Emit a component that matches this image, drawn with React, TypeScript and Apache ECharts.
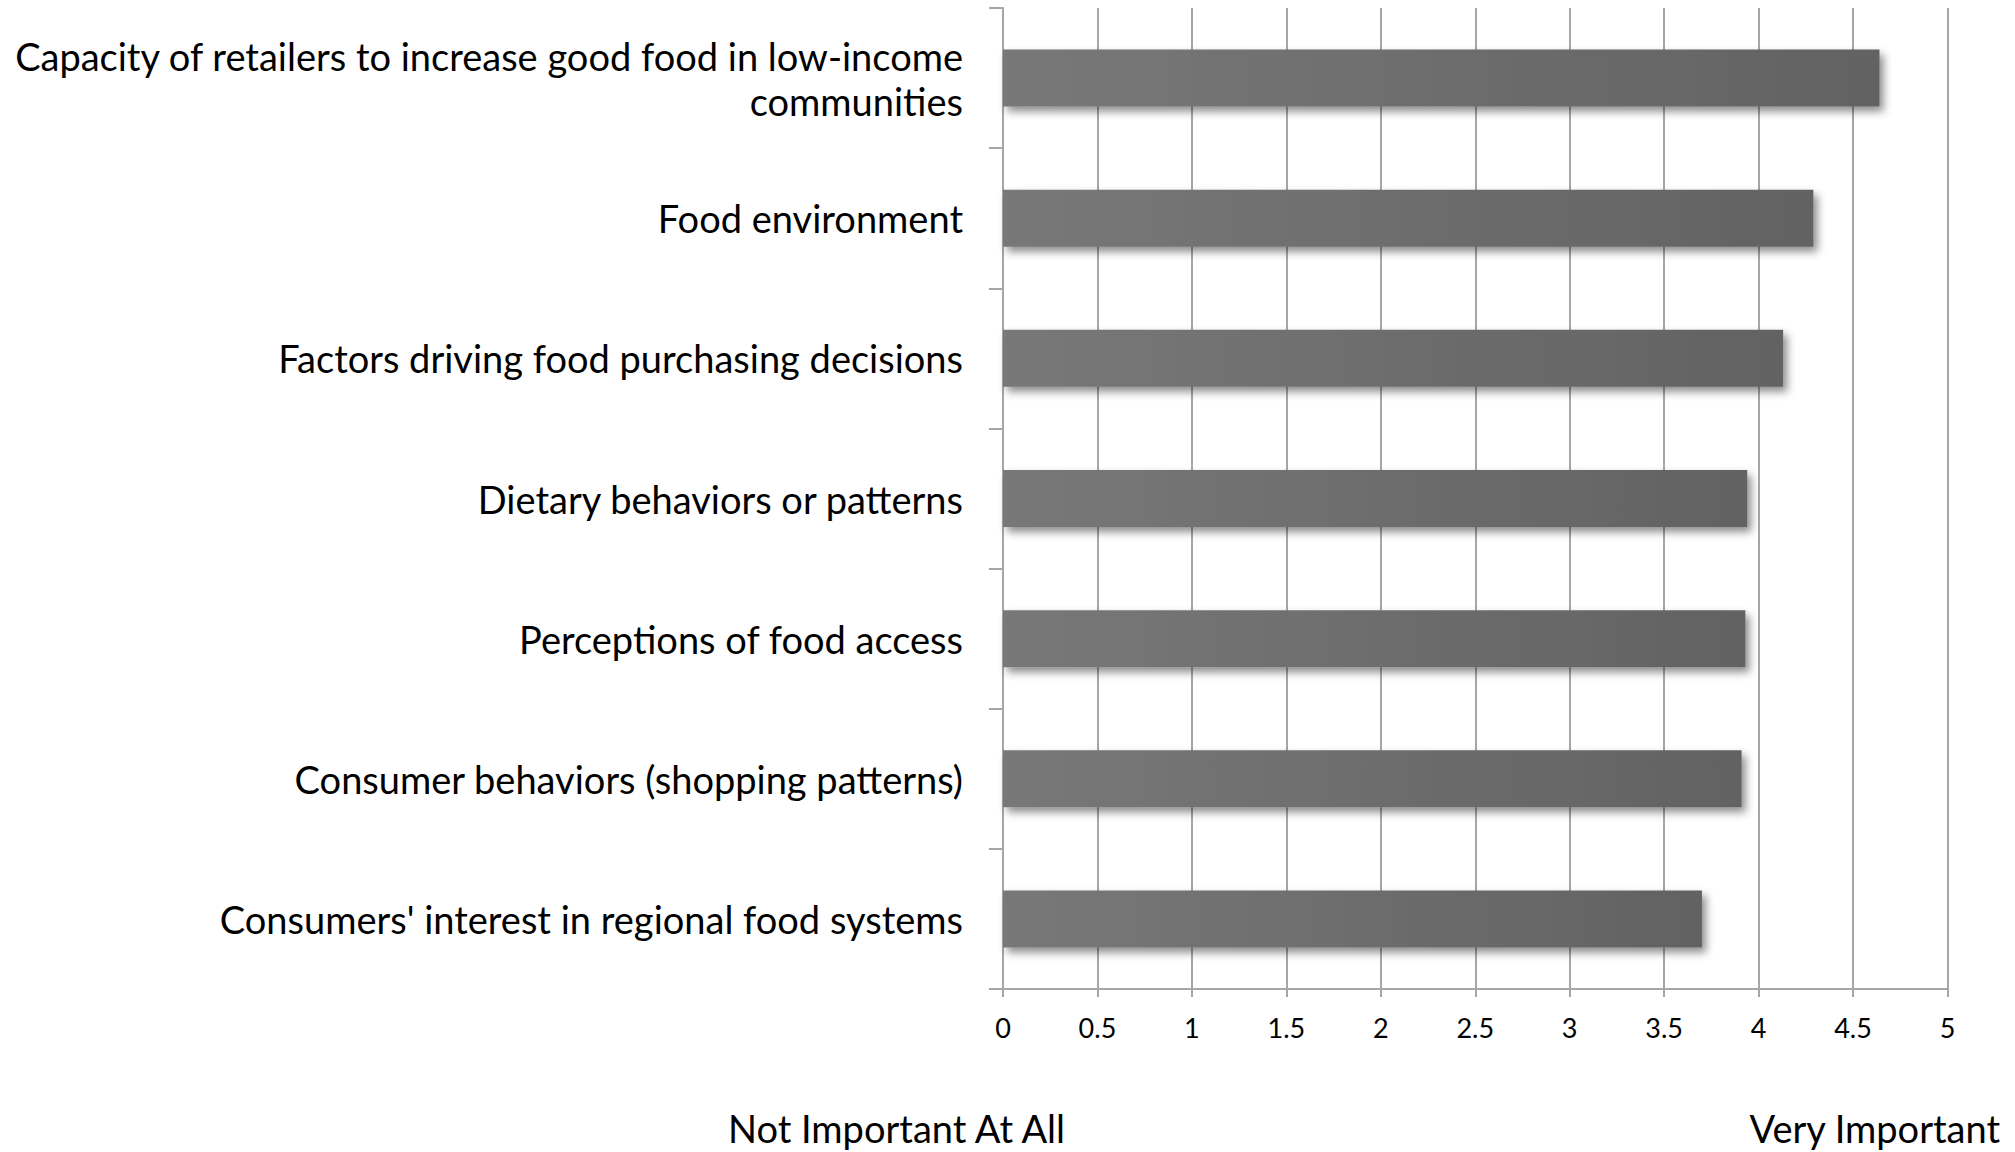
import React, { useEffect, useRef } from "react";
import * as echarts from "echarts";

const categories = [
  "Consumers' interest in regional food systems",
  "Consumer behaviors (shopping patterns)",
  "Perceptions of food access",
  "Dietary behaviors or patterns",
  "Factors driving food purchasing decisions",
  "Food environment",
  "Capacity of retailers to increase good food in low-income\ncommunities",
];
const values = [3.7, 3.91, 3.93, 3.94, 4.13, 4.29, 4.64];
const xTicks = [0, 0.5, 1, 1.5, 2, 2.5, 3, 3.5, 4, 4.5, 5];
const leftNote = "Not Important At All";
const rightNote = "Very Important";

const FONT = "Lato";

export default function App() {
  const ref = useRef<HTMLDivElement>(null);
  useEffect(() => {
    if (!ref.current) return;
    const chart = echarts.init(ref.current, null, { renderer: "svg" });
    chart.setOption({
      animation: false,
      backgroundColor: "#ffffff",
      grid: {
        left: 1003,
        right: 67.5,
        top: 8,
        bottom: 163,
        containLabel: false,
        outerBoundsMode: "none",
      },
      xAxis: {
        type: "value",
        min: xTicks[0],
        max: xTicks[xTicks.length - 1],
        interval: 0.5,
        axisLine: { show: true, lineStyle: { color: "#a6a6a6", width: 2 } },
        axisTick: { show: true, length: 8, lineStyle: { color: "#a6a6a6", width: 2 } },
        splitLine: { show: true, lineStyle: { color: "#a6a6a6", width: 2 } },
        axisLabel: {
          margin: 25,
          color: "#000",
          fontFamily: FONT,
          fontSize: 27,
          formatter: (v: number) => String(v),
        },
      },
      yAxis: {
        type: "category",
        data: categories,
        axisLine: { show: true, lineStyle: { color: "#a6a6a6", width: 2 } },
        axisTick: { show: true, length: 14, lineStyle: { color: "#a6a6a6", width: 2 } },
        splitLine: { show: false },
        axisLabel: {
          margin: 40,
          color: "#000",
          fontFamily: FONT,
          fontSize: 38,
          lineHeight: 45,
          align: "right",
        },
      },
      series: [
        {
          type: "bar",
          data: values,
          barWidth: 57,
          itemStyle: {
            color: new echarts.graphic.LinearGradient(0, 0, 1, 0, [
              { offset: 0, color: "#787878" },
              { offset: 1, color: "#626262" },
            ]),
            shadowColor: "rgba(0,0,0,0.45)",
            shadowBlur: 8,
            shadowOffsetX: 4,
            shadowOffsetY: 5,
          },
        },
      ],
      graphic: [
        {
          type: "text",
          left: 728,
          top: 1108,
          style: { text: leftNote, fontFamily: FONT, fontSize: 38, lineHeight: 40, fill: "#000" },
        },
        {
          type: "text",
          right: 14,
          top: 1108,
          style: { text: rightNote, fontFamily: FONT, fontSize: 38, lineHeight: 40, fill: "#000" },
        },
      ],
    });
    return () => chart.dispose();
  }, []);
  return (
    <div
      ref={ref}
      style={{ position: "absolute", left: 0, top: 0, width: 2015, height: 1152 }}
    />
  );
}
